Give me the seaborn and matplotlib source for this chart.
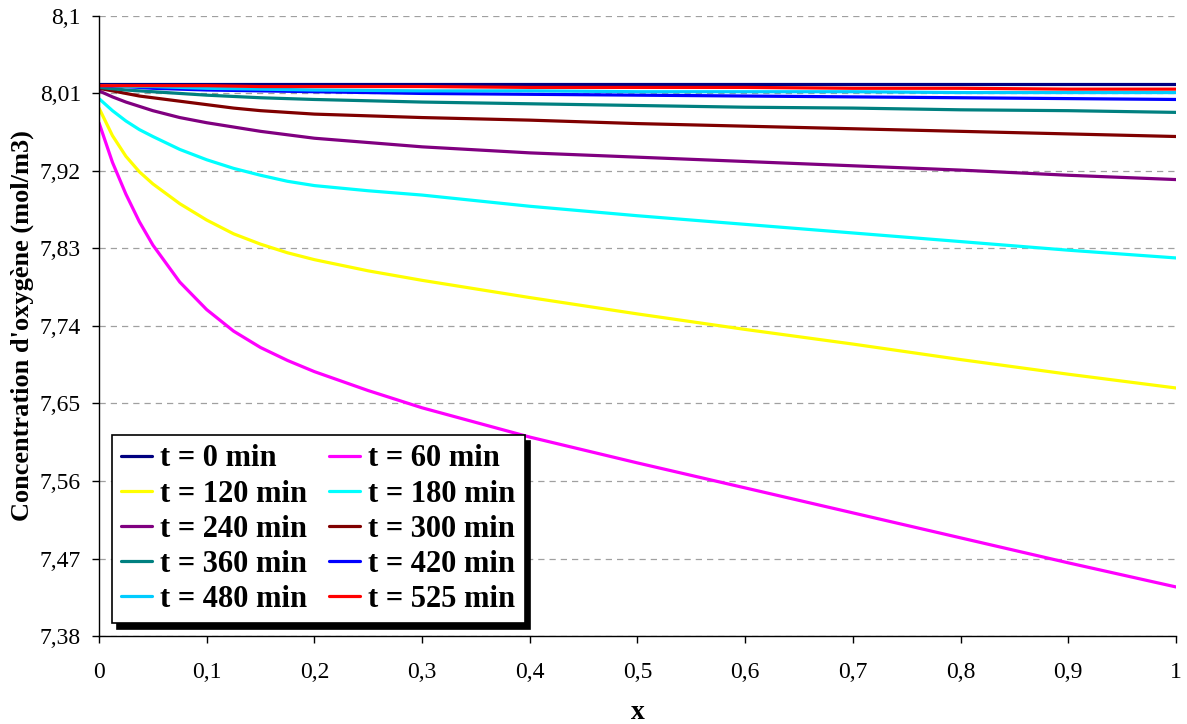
import numpy as np
import pandas as pd
import matplotlib
matplotlib.use("Agg")
import matplotlib.pyplot as plt
import seaborn as sns

# position along the column (dimensionless)
x = [0, 0.0125, 0.025, 0.0375, 0.05, 0.075, 0.1, 0.125, 0.15, 0.175, 0.2, 0.25,
     0.3, 0.4, 0.5, 0.6, 0.7, 0.8, 0.9, 1.0]

times = ["t = 0 min", "t = 60 min", "t = 120 min", "t = 180 min", "t = 240 min",
         "t = 300 min", "t = 360 min", "t = 420 min", "t = 480 min", "t = 525 min"]

# oxygen concentration (mol/m3), one list per time
c_0 = [8.021] * 20
c_60 = [7.976, 7.930, 7.893, 7.861, 7.834, 7.791, 7.759, 7.734, 7.715, 7.700,
        7.687, 7.665, 7.645, 7.611, 7.581, 7.552, 7.523, 7.494, 7.465, 7.437]
c_120 = [7.993, 7.961, 7.937, 7.919, 7.905, 7.882, 7.863, 7.847, 7.835, 7.825,
         7.817, 7.804, 7.793, 7.773, 7.754, 7.736, 7.719, 7.701, 7.684, 7.668]
c_180 = [8.004, 7.990, 7.978, 7.968, 7.960, 7.945, 7.933, 7.923, 7.915, 7.908,
         7.903, 7.897, 7.892, 7.879, 7.868, 7.858, 7.848, 7.838, 7.828, 7.819]
c_240 = [8.013, 8.006, 8.000, 7.995, 7.990, 7.982, 7.976, 7.971, 7.966, 7.962,
         7.958, 7.953, 7.948, 7.941, 7.936, 7.931, 7.926, 7.921, 7.915, 7.910]
c_300 = [8.016, 8.013, 8.010, 8.007, 8.005, 8.001, 7.997, 7.993, 7.990, 7.988,
         7.986, 7.984, 7.982, 7.979, 7.975, 7.972, 7.969, 7.966, 7.963, 7.960]
c_360 = [8.017, 8.0155, 8.014, 8.013, 8.012, 8.010, 8.008, 8.0065, 8.005, 8.004,
         8.003, 8.0015, 8.000, 7.998, 7.996, 7.994, 7.993, 7.991, 7.990, 7.988]
c_420 = [8.019, 8.0185, 8.018, 8.017, 8.016, 8.015, 8.014, 8.0135, 8.013, 8.0125,
         8.012, 8.011, 8.010, 8.009, 8.008, 8.007, 8.006, 8.005, 8.004, 8.003]
c_480 = [8.019, 8.019, 8.018, 8.018, 8.018, 8.017, 8.016, 8.0155, 8.015, 8.0145,
         8.014, 8.0135, 8.013, 8.013, 8.012, 8.012, 8.012, 8.011, 8.011, 8.011]
c_525 = [8.019, 8.019, 8.019, 8.019, 8.019, 8.019, 8.019, 8.0185, 8.018, 8.018,
         8.018, 8.018, 8.018, 8.017, 8.017, 8.017, 8.016, 8.016, 8.015, 8.015]

colors = ["#000080", "#FF00FF", "#FFFF00", "#00FFFF", "#800080",
          "#800000", "#008080", "#0000FF", "#00CCFF", "#FF0000"]

y_ticks = [7.38, 7.47, 7.56, 7.65, 7.74, 7.83, 7.92, 8.01, 8.1]
x_ticks = [0, 0.1, 0.2, 0.3, 0.4, 0.5, 0.6, 0.7, 0.8, 0.9, 1]

series = [c_0, c_60, c_120, c_180, c_240, c_300, c_360, c_420, c_480, c_525]
df = pd.concat([pd.DataFrame({"x": x, "c": s, "t": t}) for t, s in zip(times, series)],
               ignore_index=True)

sns.set_style("white")
plt.rcParams["font.family"] = ["Liberation Serif", "DejaVu Serif"]
plt.rcParams["text.color"] = "black"
plt.rcParams["axes.labelcolor"] = "black"
plt.rcParams["xtick.color"] = "black"
plt.rcParams["ytick.color"] = "black"

fig = plt.figure(figsize=(11.87, 7.24), dpi=100)
ax = fig.add_axes([0.0834, 0.1215, 0.9073, 0.8565])

sns.lineplot(data=df, x="x", y="c", hue="t", hue_order=times,
             palette=dict(zip(times, colors)), linewidth=2.3, ax=ax, legend=True)
for ln in ax.get_lines():
    ln.set_solid_joinstyle("round")

ax.set_xlim(0, 1)
ax.set_ylim(7.38, 8.1)
ax.set_yticks(y_ticks)
ax.set_yticklabels([("%g" % v).replace(".", ",") for v in y_ticks], fontsize=17)
ax.set_xticks(x_ticks)
ax.set_xticklabels([("%g" % v).replace(".", ",") for v in x_ticks], fontsize=17)
ax.tick_params(axis="both", direction="out", length=5, width=1, left=True, bottom=True)
ax.tick_params(axis="x", pad=14)
ax.tick_params(axis="y", pad=8)
ax.yaxis.grid(True, linestyle=(0, (5, 4)), color="#a0a0a0", linewidth=0.9)
ax.xaxis.grid(False)
for side in ["top", "right"]:
    ax.spines[side].set_visible(False)
for side in ["left", "bottom"]:
    ax.spines[side].set_color("black")
    ax.spines[side].set_linewidth(1)

ax.set_xlabel("x", fontsize=20, fontweight="bold", labelpad=12)
ax.set_ylabel("Concentration d'oxygène (mol/m3)", fontsize=19, fontweight="bold", labelpad=4)

handles, labels = ax.get_legend_handles_labels()
order = [0, 2, 4, 6, 8, 1, 3, 5, 7, 9]
leg = ax.legend([handles[i] for i in order], [labels[i] for i in order], ncol=2,
                loc="lower left", bbox_to_anchor=(0.012, 0.021), borderaxespad=0,
                frameon=True, fancybox=False, edgecolor="black",
                shadow={"color": "black", "alpha": 1, "ox": 4, "oy": -4},
                prop={"size": 22, "weight": "bold"}, handlelength=1.02,
                handletextpad=0.26, columnspacing=0.72, labelspacing=0.2,
                borderpad=0.3)
leg.get_frame().set_linewidth(1.2)
for h in leg.get_lines():
    h.set_linewidth(2.3)

fig.savefig("out.png", dpi=100)
